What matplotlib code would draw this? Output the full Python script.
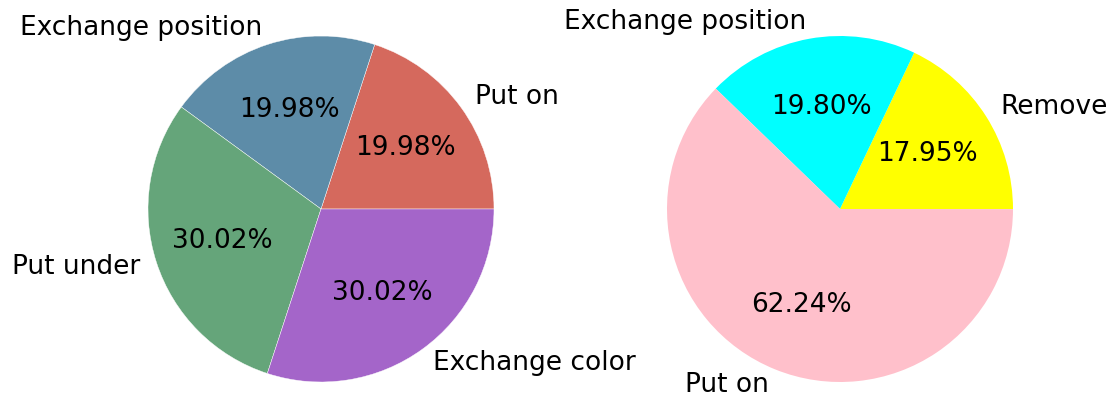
import matplotlib
matplotlib.use("Agg")
import matplotlib.pyplot as plt

# left pie (shares, as fractions)
left_labels = ["Put on", "Exchange position", "Put under", "Exchange color"]
left_values = [0.1998, 0.1998, 0.3002, 0.3002]
left_colors = ["#d5695d", "#5d8ca8", "#65a57a", "#a465c9"]

# right pie
right_labels = ["Remove", "Exchange position", "Put on"]
right_values = [0.1795, 0.1980, 0.6224]
right_colors = ["yellow", "cyan", "pink"]

W, H = 1112, 395
fig = plt.figure(figsize=(W / 100, H / 100), dpi=100)

R = 173  # pie radius in px
side = 2.5 * R

def make_ax(cx, cy):
    ax = fig.add_axes([(cx - side / 2) / W, (H - cy - side / 2) / H, side / W, side / H])
    return ax

ax1 = make_ax(321, 209)
ax1.pie(left_values, labels=left_labels, colors=left_colors, autopct="%.2f%%",
        startangle=0, normalize=False, textprops={"fontsize": 19},
        wedgeprops={"edgecolor": "white", "linewidth": 0.3})
ax1.set_xlim(-1.25, 1.25)
ax1.set_ylim(-1.25, 1.25)
ax1.set_aspect("equal")

ax2 = make_ax(840, 209)
ax2.pie(right_values, labels=right_labels, colors=right_colors, autopct="%.2f%%",
        startangle=0, normalize=False, textprops={"fontsize": 19})
ax2.set_xlim(-1.25, 1.25)
ax2.set_ylim(-1.25, 1.25)
ax2.set_aspect("equal")

fig.savefig("out.png", dpi=100)
